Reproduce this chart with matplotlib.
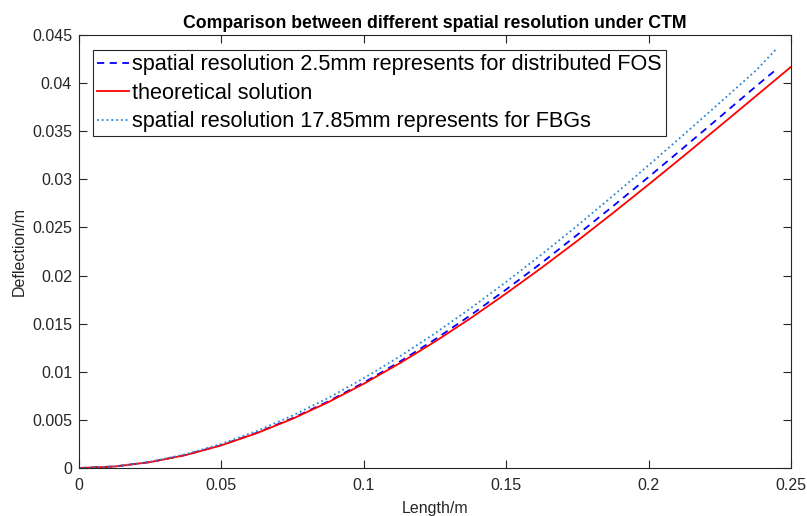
import numpy as np
import matplotlib.pyplot as plt
from matplotlib.ticker import FuncFormatter

plt.rcParams['font.family'] = ['Liberation Sans', 'DejaVu Sans']

# theoretical solution
x_theory = [0, 0.0125, 0.025, 0.0375, 0.05, 0.0625, 0.075, 0.0875, 0.1, 0.1125,
            0.125, 0.1375, 0.15, 0.1625, 0.175, 0.1875, 0.2, 0.2125, 0.225, 0.2375, 0.25]
y_theory = [0, 0.000156, 0.000613, 0.00135, 0.00236, 0.00363, 0.00512, 0.00684, 0.00876, 0.01087,
            0.01314, 0.01557, 0.01815, 0.02083, 0.02362, 0.02651, 0.02947, 0.03248, 0.03554, 0.03862, 0.0417]

# measured curves (both stop a bit before the end)
x_meas = [0, 0.0125, 0.025, 0.0375, 0.05, 0.0625, 0.075, 0.0875, 0.1, 0.1125,
          0.125, 0.1375, 0.15, 0.1625, 0.175, 0.1875, 0.2, 0.2125, 0.225, 0.2375, 0.245]
y_fos = [0, 0.00016, 0.00062, 0.00136, 0.00238, 0.00367, 0.00518, 0.00692, 0.00888, 0.01103,
         0.01337, 0.01588, 0.01856, 0.02134, 0.02425, 0.02722, 0.03025, 0.03335, 0.03648, 0.03963, 0.04147]
y_fbg = [0, 0.000166, 0.00065, 0.00144, 0.00251, 0.00386, 0.00545, 0.00728, 0.00933, 0.01158,
         0.01400, 0.01660, 0.01935, 0.02221, 0.02520, 0.02830, 0.03147, 0.03470, 0.03797, 0.04127, 0.04360]

fig = plt.figure(figsize=(8.07, 5.16), dpi=100)
ax = fig.add_axes([0.0979, 0.093, 0.8823, 0.839])

ax.plot(x_meas, y_fos, '--', color='#0000ff', lw=1.3, dashes=(4, 3),
        label='spatial resolution 2.5mm represents for distributed FOS')
ax.plot(x_theory, y_theory, '-', color='#ff0000', lw=1.3, label='theoretical solution')
ax.plot(x_meas, y_fbg, ':', color='#2a86d2', lw=1.3,
        label='spatial resolution 17.85mm represents for FBGs')

ax.set_xlim(0, 0.25)
ax.set_ylim(0, 0.045)
ax.set_xticks(np.arange(0, 0.2501, 0.05))
ax.set_yticks(np.arange(0, 0.04501, 0.005))
fmt = FuncFormatter(lambda v, p: '%g' % round(v, 4))
ax.xaxis.set_major_formatter(fmt)
ax.yaxis.set_major_formatter(fmt)
ax.tick_params(direction='in', length=6, width=0.8, top=True, right=True,
               labelsize=11.5, colors='#262626')
ax.tick_params(axis='x', pad=7)
ax.tick_params(axis='y', pad=5)
for s in ax.spines.values():
    s.set_color('#262626')
    s.set_linewidth(0.8)

ax.set_xlabel('Length/m', fontsize=11.5, color='#262626', labelpad=6)
ax.set_ylabel('Deflection/m', fontsize=11.5, color='#262626', labelpad=4)
ax.set_title('Comparison between different spatial resolution under CTM',
             fontsize=12.7, fontweight='bold', pad=5)

leg = ax.legend(loc='upper left', bbox_to_anchor=(0.0192, 0.9654), borderaxespad=0,
                fontsize=15.6, fancybox=False, edgecolor='#262626', framealpha=1,
                handlelength=1.47, handletextpad=0.14, labelspacing=0.34, borderpad=0.2)
leg.get_frame().set_linewidth(0.8)

fig.savefig('out.png', dpi=100)
